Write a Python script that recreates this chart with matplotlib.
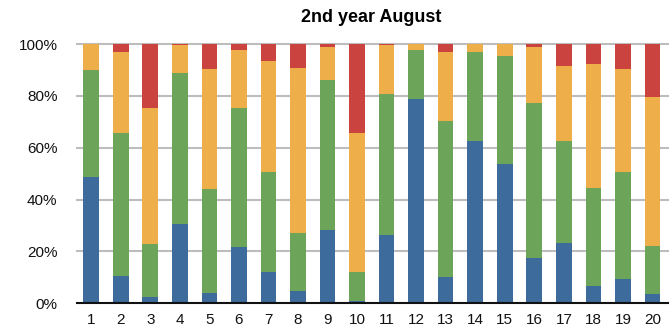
import matplotlib
matplotlib.use("Agg")
import matplotlib.pyplot as plt
import numpy as np

plt.rcParams['font.family'] = ['Liberation Sans', 'DejaVu Sans']

days = [str(i) for i in range(1, 21)]
blue = [48.7, 10.5, 2.4, 30.6, 4.0, 21.7, 12.1, 4.8, 28.3, 0.9,
        26.3, 78.8, 10.2, 62.6, 53.7, 17.5, 23.3, 6.7, 9.4, 3.6]
green = [41.3, 55.2, 20.5, 58.2, 40.1, 53.6, 38.5, 22.3, 57.8, 11.2,
         54.4, 18.9, 60.1, 34.3, 41.7, 59.7, 39.3, 37.8, 41.2, 18.5]
orange = [10.0, 31.2, 52.4, 10.8, 46.3, 22.4, 42.8, 63.6, 12.7, 53.6,
          18.9, 2.3, 26.6, 3.1, 4.6, 21.6, 28.9, 47.8, 39.8, 57.5]
red = [0.0, 3.1, 24.7, 0.4, 9.6, 2.3, 6.6, 9.3, 1.2, 34.3,
       0.4, 0.0, 3.1, 0.0, 0.0, 1.2, 8.5, 7.7, 9.6, 20.4]
yticks = [0, 20, 40, 60, 80, 100]
ytick_labels = ["0%", "20%", "40%", "60%", "80%", "100%"]

colors = ["#3c6b9c", "#6ca55a", "#eeaf4a", "#ca433f"]

fig = plt.figure(figsize=(6.69, 3.27), dpi=100)
ax = fig.add_axes([77 / 669, 1 - 303.3 / 327, 592 / 669, 259.3 / 327])

x = np.arange(1, len(days) + 1)
bottom = np.zeros(len(days))
for vals, c in zip([blue, green, orange, red], colors):
    ax.bar(x, vals, width=0.53, bottom=bottom, color=c, zorder=2, linewidth=0)
    bottom += np.array(vals)

ax.set_xlim(0.52, 20.56)
ax.set_ylim(0, 100)
ax.set_yticks(yticks)
ax.set_yticklabels(ytick_labels)
ax.set_xticks(x)
ax.set_xticklabels(days)
ax.tick_params(axis='both', length=0, labelsize=11, colors="#111111")
ax.tick_params(axis='y', pad=14)
ax.tick_params(axis='x', pad=7)

for y in yticks[1:]:
    ax.axhline(y, color="#bdbdbd", linewidth=1.5, zorder=1, clip_on=False)

for side in ['top', 'right', 'left']:
    ax.spines[side].set_visible(False)
ax.spines['bottom'].set_color("#111111")
ax.spines['bottom'].set_linewidth(1.5)
ax.spines['bottom'].set_zorder(3)

fig.text(371.5 / 669, 1 - 17 / 327, "2nd year August", ha='center', va='center',
         fontsize=13, fontweight='bold')

fig.savefig("out.png", dpi=100)
